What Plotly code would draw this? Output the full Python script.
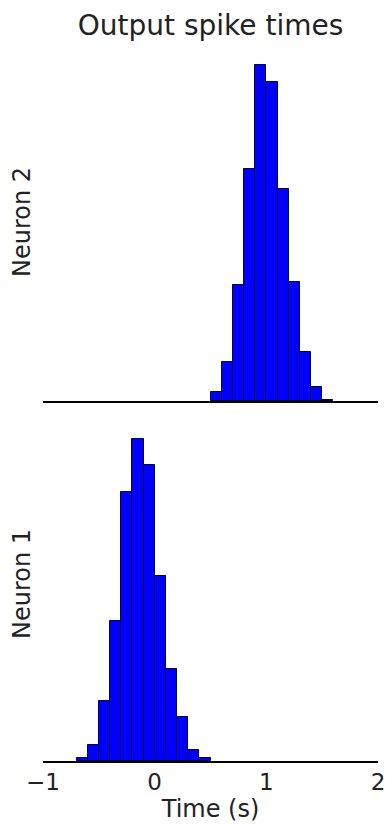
import plotly.graph_objects as go
from plotly.subplots import make_subplots

# histogram bin centres (s) and counts
neuron1_bins = [-0.65, -0.55, -0.45, -0.35, -0.25, -0.15, -0.05, 0.05, 0.15, 0.25, 0.35, 0.45]
neuron1_counts = [2, 11, 42, 98, 188, 225, 207, 129, 64, 31, 8, 2]

neuron2_bins = [0.55, 0.65, 0.75, 0.85, 0.95, 1.05, 1.15, 1.25, 1.35, 1.45, 1.55]
neuron2_counts = [6, 27, 81, 162, 235, 223, 148, 83, 34, 10, 1]

x_ticks = [-1, 0, 1, 2]
bin_width = 0.1

FONT = "DejaVu Sans"
W, H = 385, 825
L, R, T, B = 43, 7, 62, 64

fig = make_subplots(rows=2, cols=1)

bar_style = dict(marker=dict(color="#0000ff", line=dict(color="#000033", width=1)),
                 width=bin_width, showlegend=False)
fig.add_trace(go.Bar(x=neuron2_bins, y=neuron2_counts, **bar_style), row=1, col=1)
fig.add_trace(go.Bar(x=neuron1_bins, y=neuron1_counts, **bar_style), row=2, col=1)

fig.update_layout(
    width=W, height=H,
    margin=dict(l=L, r=R, t=T, b=B, autoexpand=False),
    paper_bgcolor="white", plot_bgcolor="white",
    bargap=0,
    font=dict(family=FONT, size=23, color="#222222"),
    title=dict(text="Output spike times", x=0.5, xref="paper", y=1 - 25 / H,
               yanchor="middle", font=dict(size=28, family=FONT)),
)

axis_common = dict(range=[-1, 2], domain=[0, 1], showgrid=False, zeroline=False,
                   showline=True, linecolor="black", linewidth=1.5, automargin=False)
fig.update_xaxes(showticklabels=False, ticks="", **axis_common, row=1, col=1)
fig.update_xaxes(tickvals=x_ticks, ticks="", ticklabelstandoff=0, ticklabeloverflow="allow",
                 title=dict(text="Time (s)", standoff=1, font=dict(size=24)),
                 **axis_common, row=2, col=1)

yaxis_common = dict(range=[0, 237], showgrid=False, zeroline=False, showline=False,
                    showticklabels=False, ticks="", automargin=False)
fig.update_yaxes(domain=[0.515, 1], **yaxis_common, row=1, col=1)
fig.update_yaxes(domain=[0, 0.485], **yaxis_common, row=2, col=1)

# y labels placed as rotated annotations
pw, ph = W - L - R, H - T - B
for label, ypix in [("Neuron 2", 222), ("Neuron 1", 584)]:
    fig.add_annotation(text=label, textangle=-90, showarrow=False,
                       xref="paper", yref="paper",
                       x=(22 - L) / pw, y=(H - B - ypix) / ph,
                       xanchor="center", yanchor="middle",
                       font=dict(size=24, family=FONT, color="#222222"))

# drop the browser's default body margin so the figure fills the window
fig.write_html("out.html", config={"displayModeBar": False},
               post_script="document.body.style.margin = '0';")
